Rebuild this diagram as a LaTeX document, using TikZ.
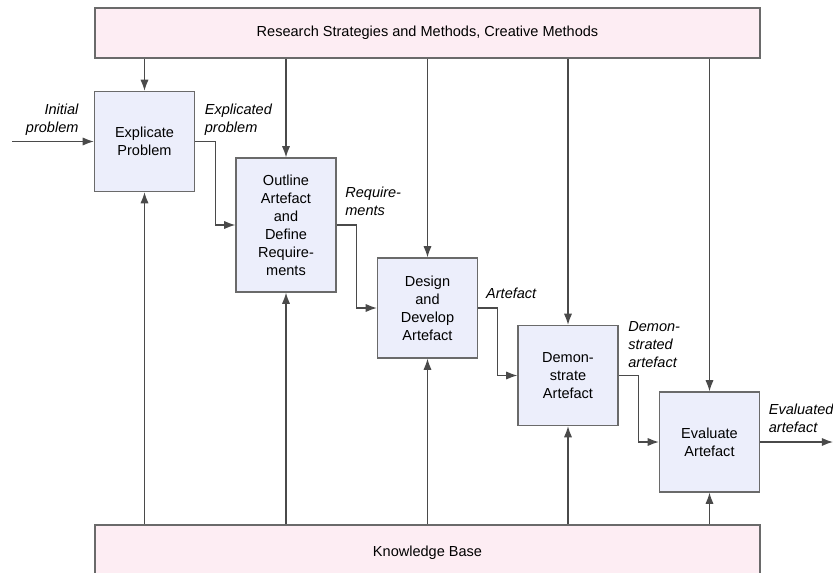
\documentclass[tikz,border=0pt]{standalone}
\usepackage{fontspec}
\setmainfont{Liberation Sans}
\usepackage{tikz}
\usetikzlibrary{arrows.meta, positioning, calc}
\definecolor{boxfill}{HTML}{ECEEFB}
\definecolor{barfill}{HTML}{FDEDF3}
\definecolor{edgegrey}{HTML}{6A6A6A}
\definecolor{linegrey}{HTML}{4A4A4A}

\begin{document}
\begin{tikzpicture}[
  stepbox/.style={rectangle, draw=edgegrey, fill=boxfill, minimum width=3cm, minimum height=3cm, font=\fontsize{12.4}{15.4}\selectfont, align=center, line width=1.1pt, inner sep=2pt},
  bar/.style={rectangle, draw=edgegrey, fill=barfill, minimum width=19.95cm, font=\fontsize{12.4}{15.4}\selectfont, line width=1.1pt},
  lbl/.style={font=\fontsize{12.4}{15.4}\selectfont\itshape, inner sep=1pt},
  arrow/.style={-{Latex[length=9.5pt,width=7pt]}, draw=linegrey, line width=1.1pt}
]
  \useasboundingbox (0,0) rectangle (24.99,17.16);

  \node[bar, minimum height=1.5cm] (rsm) at (12.825,16.17) {Research Strategies and Methods, Creative Methods};
  \node[bar, minimum height=1.65cm] (kb) at (12.825,0.585) {Knowledge Base};

  \node[stepbox] (b1) at (4.335,12.915) {Explicate\\Problem};
  \node[stepbox, minimum height=4.02cm] (b2) at (8.58,10.41) {Outline\\Artefact\\and\\Define\\Require-\\ments};
  \node[stepbox] (b3) at (12.825,7.92) {Design\\and\\Develop\\Artefact};
  \node[stepbox] (b4) at (17.04,5.895) {Demon-\\strate\\Artefact};
  \node[stepbox] (b5) at (21.285,3.9) {Evaluate\\Artefact};

  \coordinate (start) at (0.36,12.915);
  \coordinate (finish) at (24.99,3.9);

  % methods from above, knowledge from below
  \foreach \b in {b1,b2,b3,b4,b5} {
    \draw[arrow] (\b.north |- rsm.south) -- (\b.north);
    \draw[arrow] (\b.south |- kb.north) -- (\b.south);
  }

  % flow of results
  \draw[arrow] (start) -- (b1.west);
  \draw[arrow] (b1.east) -| ($(b1.east)!.5!(b2.west)$) |- (b2.west);
  \draw[arrow] (b2.east) -| ($(b2.east)!.5!(b3.west)$) |- (b3.west);
  \draw[arrow] (b3.east) -| ($(b3.east)!.5!(b4.west)$) |- (b4.west);
  \draw[arrow] (b4.east) -| ($(b4.east)!.5!(b5.west)$) |- (b5.west);
  \draw[arrow] (b5.east) -- (finish);

  \node[lbl, above left=0.15cm and 0.42cm of b1.west, align=right] {Initial\\problem};
  \node[lbl, above right=0.15cm and 0.25cm of b1.east, align=left] {Explicated\\problem};
  \node[lbl, above right=0.25cm and 0.22cm of b2.east, align=left] {Require-\\ments};
  \node[lbl, above right=0.25cm and 0.2cm of b3.east, align=left] {Artefact};
  \node[lbl, above right=0.18cm and 0.25cm of b4.east, align=left] {Demon-\\strated\\artefact};
  \node[lbl, above right=0.25cm and 0.22cm of b5.east, align=left] {Evaluated\\artefact};
\end{tikzpicture}
\end{document}
